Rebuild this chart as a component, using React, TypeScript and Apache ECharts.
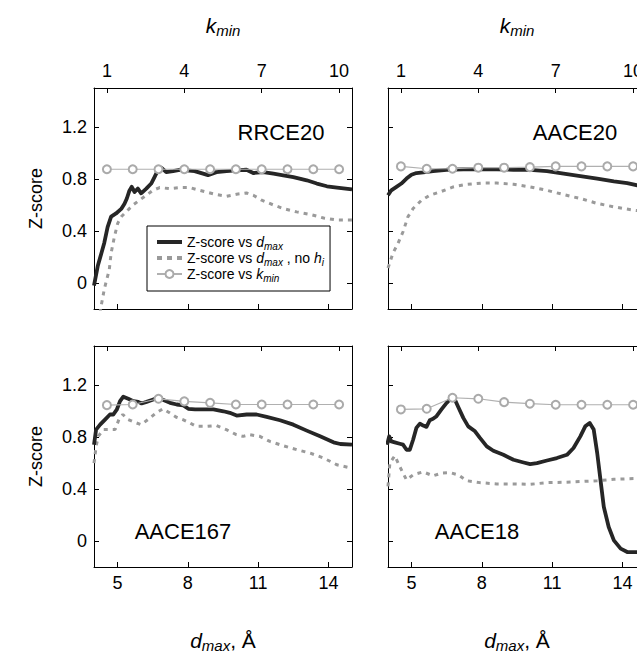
import React, { useEffect, useRef } from "react";
import * as echarts from "echarts";

// ---------- data ----------
const K_MIN = [1, 2, 3, 4, 5, 6, 7, 8, 9, 10];
const D_TICKS = [5, 8, 11, 14];
const K_TICKS = [1, 4, 7, 10];
const Z_TICKS = [0, 0.4, 0.8, 1.2];
const PANEL_NAMES = ["RRCE20", "AACE20", "AACE167", "AACE18"];

// [d_max (Å), Z-score]
const RRCE20_DMAX = [
  [4.0, -0.02], [4.16, 0.13], [4.3, 0.22], [4.44, 0.31], [4.58, 0.43], [4.73, 0.51],
  [4.94, 0.535], [5.16, 0.57], [5.3, 0.61], [5.4, 0.65], [5.51, 0.71], [5.61, 0.74],
  [5.73, 0.7], [5.87, 0.726], [6.01, 0.69], [6.23, 0.726], [6.44, 0.765], [6.58, 0.815],
  [6.72, 0.866], [6.87, 0.887], [7.08, 0.853], [7.37, 0.861], [7.65, 0.871], [7.94, 0.866],
  [8.29, 0.861], [8.65, 0.841], [8.86, 0.83], [9.22, 0.853], [9.65, 0.861], [10.08, 0.866],
  [10.5, 0.871], [10.79, 0.846], [11.22, 0.853], [11.65, 0.841], [12.07, 0.828], [12.5, 0.815],
  [13.07, 0.79], [13.5, 0.765], [13.93, 0.744], [14.36, 0.734], [15.0, 0.72],
];
const RRCE20_NOH = [
  [4.2, -0.3], [4.3, -0.18], [4.37, -0.115], [4.44, -0.046], [4.54, 0.025], [4.65, 0.1],
  [4.73, 0.23], [4.87, 0.356], [5.01, 0.459], [5.16, 0.51], [5.37, 0.547], [5.66, 0.6],
  [5.94, 0.637], [6.23, 0.675], [6.51, 0.713], [6.8, 0.734], [7.22, 0.726], [7.65, 0.734],
  [8.08, 0.734], [8.36, 0.72], [8.79, 0.7], [9.22, 0.68], [9.65, 0.667], [10.08, 0.683],
  [10.5, 0.693], [10.79, 0.675], [11.15, 0.637], [11.65, 0.6], [12.07, 0.573], [12.64, 0.547],
  [13.22, 0.527], [13.79, 0.5], [14.36, 0.484], [15.0, 0.484],
];
const RRCE20_KMIN = [0.875, 0.875, 0.875, 0.875, 0.875, 0.875, 0.875, 0.875, 0.875, 0.875];

const AACE20_DMAX = [
  [4.0, 0.675], [4.14, 0.713], [4.36, 0.739], [4.57, 0.765], [4.79, 0.803], [5.0, 0.833],
  [5.21, 0.846], [5.5, 0.851], [5.92, 0.861], [6.5, 0.871], [7.21, 0.874], [7.92, 0.874],
  [8.64, 0.874], [9.35, 0.871], [10.06, 0.871], [10.78, 0.861], [11.49, 0.841], [12.2, 0.823],
  [12.92, 0.803], [13.63, 0.782], [14.2, 0.769], [14.63, 0.751], [15.0, 0.74],
];
const AACE20_NOH = [
  [4.0, 0.115], [4.21, 0.229], [4.43, 0.306], [4.64, 0.394], [4.85, 0.509], [5.07, 0.573],
  [5.43, 0.637], [5.78, 0.675], [6.21, 0.7], [6.78, 0.739], [7.35, 0.759], [8.06, 0.769],
  [8.64, 0.769], [9.35, 0.759], [10.06, 0.739], [10.78, 0.713], [11.49, 0.68], [12.2, 0.65],
  [12.92, 0.612], [13.63, 0.586], [14.49, 0.56], [15.0, 0.55],
];
const AACE20_KMIN = [0.897, 0.879, 0.879, 0.887, 0.887, 0.891, 0.897, 0.897, 0.897, 0.897];

const AACE167_DMAX = [
  [4.0, 0.741], [4.09, 0.857], [4.26, 0.895], [4.47, 0.934], [4.68, 0.973], [4.82, 0.973],
  [4.97, 1.01], [5.11, 1.076], [5.25, 1.11], [5.46, 1.094], [5.68, 1.076], [5.89, 1.07],
  [6.03, 1.058], [6.24, 1.07], [6.53, 1.089], [6.74, 1.099], [6.96, 1.084], [7.24, 1.063],
  [7.53, 1.05], [7.81, 1.043], [8.02, 1.017], [8.31, 1.012], [8.66, 1.012], [9.09, 1.012],
  [9.52, 0.998], [9.79, 0.986], [10.08, 0.965], [10.51, 0.973], [10.93, 0.973], [11.36, 0.955],
  [11.93, 0.929], [12.5, 0.895], [13.07, 0.849], [13.64, 0.805], [14.21, 0.759], [14.5, 0.746],
  [15.0, 0.741],
];
const AACE167_NOH = [
  [4.0, 0.599], [4.09, 0.728], [4.18, 0.805], [4.4, 0.857], [4.68, 0.857], [4.9, 0.857],
  [5.06, 0.934], [5.23, 0.973], [5.45, 0.934], [5.73, 0.913], [6.01, 0.895], [6.3, 0.934],
  [6.65, 0.986], [6.94, 1.017], [7.22, 0.986], [7.51, 0.952], [7.79, 0.934], [8.08, 0.909],
  [8.36, 0.882], [8.79, 0.882], [9.22, 0.888], [9.64, 0.857], [10.07, 0.818], [10.36, 0.805],
  [10.64, 0.818], [11.07, 0.805], [11.5, 0.766], [12.07, 0.733], [12.65, 0.702], [13.22, 0.676],
  [13.79, 0.638], [14.36, 0.586], [15.0, 0.56],
];
const AACE167_KMIN = [1.045, 1.05, 1.094, 1.074, 1.063, 1.05, 1.05, 1.05, 1.05, 1.05];

const AACE18_DMAX = [
  [3.96, 0.741], [4.05, 0.805], [4.14, 0.766], [4.29, 0.759], [4.5, 0.748], [4.64, 0.741],
  [4.79, 0.702], [4.93, 0.702], [5.07, 0.779], [5.21, 0.87], [5.36, 0.903], [5.5, 0.888],
  [5.64, 0.878], [5.78, 0.929], [5.92, 0.94], [6.07, 0.96], [6.28, 1.012], [6.5, 1.063],
  [6.71, 1.102], [6.85, 1.089], [6.99, 1.032], [7.21, 0.947], [7.42, 0.882], [7.71, 0.844],
  [7.92, 0.793], [8.21, 0.728], [8.49, 0.694], [8.92, 0.663], [9.35, 0.625], [9.78, 0.604],
  [10.06, 0.591], [10.35, 0.599], [10.78, 0.619], [11.2, 0.638], [11.63, 0.663], [11.91, 0.715],
  [12.2, 0.805], [12.41, 0.882], [12.6, 0.908], [12.77, 0.857], [12.92, 0.676], [13.06, 0.47],
  [13.2, 0.263], [13.41, 0.108], [13.63, 0.005], [13.92, -0.059], [14.2, -0.085], [14.56, -0.085],
  [15.0, -0.085],
];
const AACE18_NOH = [
  [4.0, 0.42], [4.08, 0.6], [4.29, 0.656], [4.5, 0.573], [4.79, 0.47], [5.07, 0.509],
  [5.5, 0.532], [5.92, 0.501], [6.28, 0.522], [6.64, 0.526], [6.99, 0.509], [7.35, 0.464],
  [7.92, 0.449], [8.64, 0.439], [9.35, 0.439], [10.06, 0.436], [10.78, 0.449], [11.49, 0.452],
  [12.2, 0.457], [12.92, 0.464], [13.63, 0.475], [14.49, 0.48], [15.0, 0.48],
];
const AACE18_KMIN = [1.012, 1.017, 1.102, 1.094, 1.068, 1.056, 1.048, 1.048, 1.048, 1.048];

const PANEL_DMAX = [RRCE20_DMAX, AACE20_DMAX, AACE167_DMAX, AACE18_DMAX];
const PANEL_NOH = [RRCE20_NOH, AACE20_NOH, AACE167_NOH, AACE18_NOH];
const PANEL_KMIN = [RRCE20_KMIN, AACE20_KMIN, AACE167_KMIN, AACE18_KMIN];

const S1 = "Z-score vs dmax";
const S2 = "Z-score vs dmax, no hi";
const S3 = "Z-score vs kmin";

// ---------- layout / style ----------
const FONT = '"Liberation Sans", Arial, Helvetica, sans-serif';
const GRIDS = [
  { left: 94, top: 88, width: 258, height: 221 },
  { left: 388, top: 88, width: 258, height: 221 },
  { left: 94, top: 346, width: 258, height: 221 },
  { left: 388, top: 346, width: 258, height: 221 },
];
const LABEL_POS = [
  [281, 132],
  [575, 132],
  [183, 531],
  [477, 531],
];

const titleRich = {
  i: { fontSize: 21, fontStyle: "italic", fontFamily: FONT, color: "#000", lineHeight: 26 },
  s: { fontSize: 15, fontStyle: "italic", fontFamily: FONT, color: "#000", lineHeight: 15, verticalAlign: "bottom" },
  t: { fontSize: 21, fontFamily: FONT, color: "#000", lineHeight: 26 },
};

export default function App() {
  const ref = useRef<HTMLDivElement>(null);

  useEffect(() => {
    document.body.style.margin = "0";
    if (!ref.current) return;
    const chart = echarts.init(ref.current, undefined, { renderer: "svg" });

    const xAxis: any[] = [];
    const yAxis: any[] = [];
    const series: any[] = [];

    GRIDS.forEach((_, p) => {
      const isTop = p < 2;
      const isLeft = p % 2 === 0;
      const tickCommon = { show: true, inside: true, length: 5, lineStyle: { color: "#000", width: 1 } };
      const lineCommon = { show: true, onZero: false, lineStyle: { color: "#000", width: 1 } };
      const labelCommon = { color: "#000", fontSize: 18, fontFamily: FONT };

      xAxis.push({
        gridIndex: p,
        type: "value",
        position: "bottom",
        min: 4,
        max: 15,
        axisLine: lineCommon,
        axisTick: { ...tickCommon, customValues: D_TICKS },
        axisLabel: { ...labelCommon, show: !isTop, margin: 7, customValues: D_TICKS },
        splitLine: { show: false },
        name: isTop ? "" : "{i|d}{s|max}{t|, Å}",
        nameLocation: "middle",
        nameGap: 60,
        nameTextStyle: { rich: titleRich },
      });
      xAxis.push({
        gridIndex: p,
        type: "value",
        position: "top",
        min: 0.5,
        max: 10.5,
        axisLine: lineCommon,
        axisTick: { ...tickCommon, customValues: K_TICKS },
        axisLabel: { ...labelCommon, show: isTop, margin: 8, customValues: K_TICKS },
        splitLine: { show: false },
        name: isTop ? "{i|k}{s|min}" : "",
        nameLocation: "middle",
        nameGap: 50,
        nameTextStyle: { rich: titleRich },
      });
      yAxis.push({
        gridIndex: p,
        type: "value",
        position: "left",
        min: -0.2,
        max: 1.5,
        axisLine: lineCommon,
        axisTick: { ...tickCommon, customValues: Z_TICKS },
        axisLabel: { ...labelCommon, show: isLeft, margin: 7, customValues: Z_TICKS },
        splitLine: { show: false },
        name: isLeft ? "Z-score" : "",
        nameLocation: "middle",
        nameGap: 49,
        nameTextStyle: { fontSize: 18, fontFamily: FONT, color: "#000" },
      });
      yAxis.push({
        gridIndex: p,
        type: "value",
        position: "right",
        min: -0.2,
        max: 1.5,
        axisLine: lineCommon,
        axisTick: { ...tickCommon, customValues: Z_TICKS },
        axisLabel: { show: false },
        splitLine: { show: false },
      });

      series.push({
        name: S2,
        type: "line",
        xAxisIndex: 2 * p,
        yAxisIndex: 2 * p,
        data: PANEL_NOH[p],
        symbol: "none",
        clip: true,
        color: "#9a9a9a",
        lineStyle: { color: "#9a9a9a", width: 3, type: [4, 5], cap: "butt" },
        z: 2,
      });
      series.push({
        name: S1,
        type: "line",
        xAxisIndex: 2 * p,
        yAxisIndex: 2 * p,
        data: PANEL_DMAX[p],
        symbol: "none",
        clip: true,
        color: "#262626",
        lineStyle: { color: "#262626", width: 3.8, join: "round" },
        z: 3,
      });
      series.push({
        name: S3,
        type: "line",
        xAxisIndex: 2 * p + 1,
        yAxisIndex: 2 * p,
        data: K_MIN.map((k, i) => [k, PANEL_KMIN[p][i]]),
        symbol: "emptyCircle",
        symbolSize: 8,
        clip: true,
        color: "#aaaaaa",
        itemStyle: { color: "#aaaaaa", borderWidth: 1.2 },
        lineStyle: { color: "#b0b0b0", width: 1.2 },
        z: 4,
      });
    });

    const legendText: Record<string, string> = {
      [S1]: "{t|Z-score vs }{i|d}{s|max}",
      [S2]: "{t|Z-score vs }{i|d}{s|max}{t| , no }{i|h}{s|i}",
      [S3]: "{t|Z-score vs }{i|k}{s|min}",
    };

    chart.setOption({
      animation: false,
      backgroundColor: "#fff",
      textStyle: { fontFamily: FONT },
      grid: GRIDS.map((g) => ({ ...g, containLabel: false, outerBoundsMode: "none", show: false })),
      xAxis,
      yAxis,
      series,
      legend: {
        orient: "vertical",
        left: 147,
        top: 226,
        padding: [9, 6, 8, 9],
        itemGap: 0,
        itemWidth: 25,
        itemHeight: 10,
        borderColor: "#000",
        borderWidth: 1,
        backgroundColor: "#fff",
        selectedMode: false,
        data: [
          { name: S1, icon: "path://M0 0H25V4H0Z" },
          { name: S2, icon: "path://M0 0H5V4H0ZM10 0H15V4H10ZM20 0H25V4H20Z" },
          { name: S3 },
        ],
        formatter: (name: string) => legendText[name] || name,
        textStyle: {
          rich: {
            t: { fontSize: 14, fontFamily: FONT, color: "#000", lineHeight: 18 },
            i: { fontSize: 14, fontStyle: "italic", fontFamily: FONT, color: "#000", lineHeight: 18 },
            s: { fontSize: 10, fontStyle: "italic", fontFamily: FONT, color: "#000", lineHeight: 11, verticalAlign: "bottom" },
          },
        },
      },
      graphic: PANEL_NAMES.map((name, i) => ({
        type: "text",
        x: LABEL_POS[i][0],
        y: LABEL_POS[i][1],
        z: 10,
        style: {
          text: name,
          fontSize: 22,
          fontFamily: FONT,
          fill: "#000",
          align: "center",
          verticalAlign: "middle",
        },
      })),
    });

    return () => chart.dispose();
  }, []);

  return <div ref={ref} style={{ width: 637, height: 659 }} />;
}
